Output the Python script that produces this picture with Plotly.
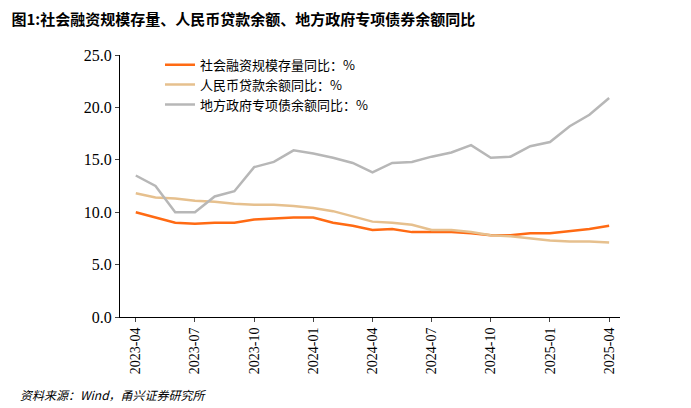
import plotly.graph_objects as go

months = ["2023-04","2023-05","2023-06","2023-07","2023-08","2023-09","2023-10","2023-11","2023-12",
          "2024-01","2024-02","2024-03","2024-04","2024-05","2024-06","2024-07","2024-08","2024-09",
          "2024-10","2024-11","2024-12","2025-01","2025-02","2025-03","2025-04"]
tsf = [10.0,9.5,9.0,8.9,9.0,9.0,9.3,9.4,9.5,9.5,9.0,8.7,8.3,8.4,8.1,8.1,8.1,8.0,7.8,7.8,8.0,8.0,8.2,8.4,8.7]
loans = [11.8,11.4,11.3,11.1,11.0,10.8,10.7,10.7,10.6,10.4,10.1,9.6,9.1,9.0,8.8,8.3,8.3,8.1,7.8,7.7,7.5,7.3,7.2,7.2,7.1]
bonds = [13.5,12.5,10.0,10.0,11.5,12.0,14.3,14.8,15.9,15.6,15.2,14.7,13.8,14.7,14.8,15.3,15.7,16.4,15.2,15.3,16.3,16.7,18.2,19.3,20.9]
names = ["社会融资规模存量同比：%","人民币贷款余额同比：%","地方政府专项债余额同比：%"]
colors = ["#FF6A13","#E6C08E","#B7B7B7"]
tick_labels = months[::3]

fig = go.Figure()
for ys, n, c in zip([tsf, loans, bonds], names, colors):
    fig.add_trace(go.Scatter(x=months, y=ys, name=n, mode="lines", line=dict(color=c, width=2.5)))

fig.update_layout(
    width=691, height=408, plot_bgcolor="white", paper_bgcolor="white",
    margin=dict(l=112, r=79, t=47, b=99),
    font=dict(family="Noto Sans CJK SC, Liberation Serif", size=13, color="black"),
    title=dict(text="<b>图1:社会融资规模存量、人民币贷款余额、地方政府专项债券余额同比</b>",
               x=0.005, xanchor="left", y=0.985, yanchor="top", font=dict(size=15)),
    legend=dict(x=0.08, y=1.02, xanchor="left", yanchor="top", bgcolor="rgba(0,0,0,0)",
                font=dict(size=13), tracegroupgap=0),
    showlegend=True,
)
fig.update_xaxes(type="category", range=[-0.8, 24.55], tickmode="array", tickvals=tick_labels,
                 ticktext=tick_labels, tickangle=-90, showline=True, linecolor="black",
                 ticks="outside", ticklen=4,
                 tickfont=dict(family="Liberation Serif", size=14), showgrid=False)
fig.update_yaxes(range=[0, 25], dtick=5, tickformat=".1f", showline=True, linecolor="black",
                 ticks="outside", ticklen=4, showgrid=False,
                 tickfont=dict(family="Liberation Serif", size=16))
fig.add_annotation(text="<i>资料来源：Wind，甬兴证券研究所</i>", xref="paper", yref="paper",
                   x=-0.205, y=-0.255, xanchor="left", yanchor="top", showarrow=False,
                   font=dict(size=12))
fig.write_html("out.html")
